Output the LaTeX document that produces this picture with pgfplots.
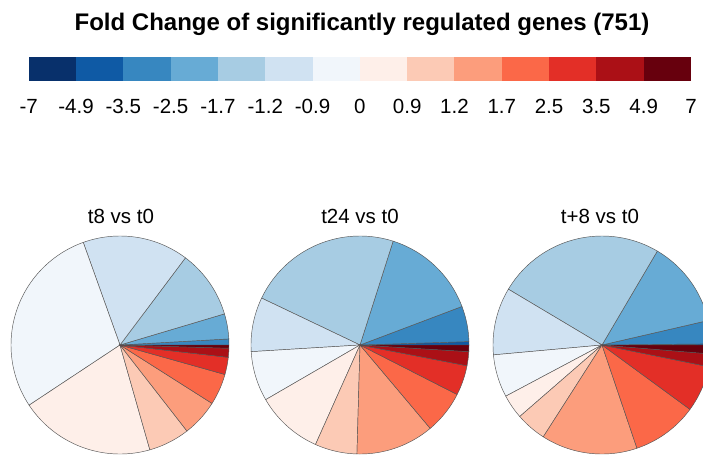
\documentclass[border=0pt]{standalone}
\usepackage{fontspec}
\setmainfont{Liberation Sans}
\usepackage{pgfplots}
\pgfplotsset{compat=1.18}
\usepgfplotslibrary{polar}
\definecolor{c1}{HTML}{08306B}
\definecolor{c2}{HTML}{0F5AA5}
\definecolor{c3}{HTML}{3787C0}
\definecolor{c4}{HTML}{67ABD5}
\definecolor{c5}{HTML}{A7CCE3}
\definecolor{c6}{HTML}{D0E2F2}
\definecolor{c7}{HTML}{F1F6FB}
\definecolor{c8}{HTML}{FEEFE9}
\definecolor{c9}{HTML}{FCCAB5}
\definecolor{c10}{HTML}{FC9D7C}
\definecolor{c11}{HTML}{FB6848}
\definecolor{c12}{HTML}{E32F27}
\definecolor{c13}{HTML}{AB1016}
\definecolor{c14}{HTML}{67000D}
\definecolor{edgec}{HTML}{555555}
% one slice: colour, start angle, end angle (degrees, counter-clockwise from east)
\newcommand{\slice}[3]{\addplot[fill=#1, draw=edgec, line width=0.45pt, domain=#2:#3, samples=60] {1} -- (axis cs:0,0) -- cycle;}
\pgfplotsset{pie/.style={hide axis, scale only axis, width=218pt, height=218pt,
  xmin=0, xmax=360, ymin=0, ymax=1, anchor=center, clip=false}}
\begin{document}
\begin{tikzpicture}[x=1pt,y=1pt]
\useasboundingbox (0,0) rectangle (703,456);
\clip (0,0) rectangle (703,456);
\node[font=\fontsize{24}{28}\selectfont\bfseries, anchor=base] at (362,425.5) {Fold Change of significantly regulated genes (751)};
% colour key
\begin{axis}[at={(28.7pt,375pt)}, anchor=south west, scale only axis,
  width=662.3pt, height=24pt, xmin=0, xmax=14, ymin=0, ymax=1,
  axis line style={draw=none}, major tick length=0pt, ytick=\empty,
  xtick={0,...,14},
  xticklabels={{-7},{-4.9},{-3.5},{-2.5},{-1.7},{-1.2},{-0.9},{0},{0.9},{1.2},{1.7},{2.5},{3.5},{4.9},{7}},
  xticklabel style={font=\fontsize{20.5}{24}\selectfont, anchor=base, yshift=-32pt},
  clip=false]
\addplot[fill=c1, draw=none] coordinates {(0,0) (1,0) (1,1) (0,1)} -- cycle;
\addplot[fill=c2, draw=none] coordinates {(1,0) (2,0) (2,1) (1,1)} -- cycle;
\addplot[fill=c3, draw=none] coordinates {(2,0) (3,0) (3,1) (2,1)} -- cycle;
\addplot[fill=c4, draw=none] coordinates {(3,0) (4,0) (4,1) (3,1)} -- cycle;
\addplot[fill=c5, draw=none] coordinates {(4,0) (5,0) (5,1) (4,1)} -- cycle;
\addplot[fill=c6, draw=none] coordinates {(5,0) (6,0) (6,1) (5,1)} -- cycle;
\addplot[fill=c7, draw=none] coordinates {(6,0) (7,0) (7,1) (6,1)} -- cycle;
\addplot[fill=c8, draw=none] coordinates {(7,0) (8,0) (8,1) (7,1)} -- cycle;
\addplot[fill=c9, draw=none] coordinates {(8,0) (9,0) (9,1) (8,1)} -- cycle;
\addplot[fill=c10, draw=none] coordinates {(9,0) (10,0) (10,1) (9,1)} -- cycle;
\addplot[fill=c11, draw=none] coordinates {(10,0) (11,0) (11,1) (10,1)} -- cycle;
\addplot[fill=c12, draw=none] coordinates {(11,0) (12,0) (12,1) (11,1)} -- cycle;
\addplot[fill=c13, draw=none] coordinates {(12,0) (13,0) (13,1) (12,1)} -- cycle;
\addplot[fill=c14, draw=none] coordinates {(13,0) (14,0) (14,1) (13,1)} -- cycle;
\end{axis}
% pie titles
\node[font=\fontsize{20.5}{24}\selectfont, anchor=base] at (121,233) {t8 vs t0};
\node[font=\fontsize{20.5}{24}\selectfont, anchor=base] at (360,233) {t24 vs t0};
\node[font=\fontsize{20.5}{24}\selectfont, anchor=base] at (600,233) {t+8 vs t0};
% pie 1: t8 vs t0
\begin{polaraxis}[pie, at={(120pt,111pt)}]
\slice{c3}{0}{3.2}
\slice{c4}{3.2}{16.6}
\slice{c5}{16.6}{53.1}
\slice{c6}{53.1}{109.7}
\slice{c7}{109.7}{213.5}
\slice{c8}{213.5}{285.9}
\slice{c9}{285.9}{307.9}
\slice{c10}{307.9}{327.6}
\slice{c11}{327.6}{344.3}
\slice{c12}{344.3}{353.5}
\slice{c13}{353.5}{358.3}
\slice{c14}{358.3}{360}
\end{polaraxis}
% pie 2: t24 vs t0
\begin{polaraxis}[pie, at={(360pt,111pt)}]
\slice{c2}{0}{1.8}
\slice{c3}{1.8}{20.7}
\slice{c4}{20.7}{72.3}
\slice{c5}{72.3}{154.5}
\slice{c6}{154.5}{183.5}
\slice{c7}{183.5}{210.1}
\slice{c8}{210.1}{245.9}
\slice{c9}{245.9}{268.4}
\slice{c10}{268.4}{310.1}
\slice{c11}{310.1}{333.0}
\slice{c12}{333.0}{349.0}
\slice{c13}{349.0}{356.5}
\slice{c14}{356.5}{360}
\end{polaraxis}
% pie 3: t+8 vs t0
\begin{polaraxis}[pie, at={(602pt,111pt)}]
\slice{c2}{0}{0.6}
\slice{c3}{0.6}{13.0}
\slice{c4}{13.0}{59.5}
\slice{c5}{59.5}{149.2}
\slice{c6}{149.2}{185.2}
\slice{c7}{185.2}{208.0}
\slice{c8}{208.0}{221.0}
\slice{c9}{221.0}{237.4}
\slice{c10}{237.4}{288.7}
\slice{c11}{288.7}{323.8}
\slice{c12}{323.8}{348.5}
\slice{c13}{348.5}{355.3}
\slice{c14}{355.3}{360}
\end{polaraxis}
\end{tikzpicture}
\end{document}
